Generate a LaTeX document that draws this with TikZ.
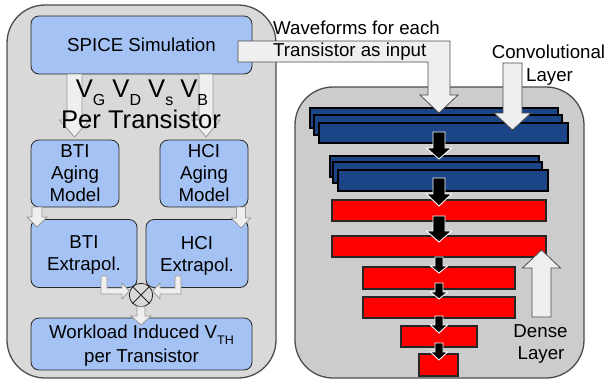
\documentclass[tikz,border=0pt]{standalone}
\usepackage{fontspec}
\setmainfont{Liberation Sans}
\definecolor{panelA}{HTML}{D9D9D9}
\definecolor{panelB}{HTML}{CCCCCC}
\definecolor{boxblue}{HTML}{A4C2F4}
\definecolor{darkblue}{HTML}{1C4587}
\definecolor{arrowfill}{HTML}{EFEFEF}
\definecolor{arrowline}{HTML}{999999}
\definecolor{panelline}{HTML}{4D4D4D}
\newcommand\dnarrow[7]{\draw[#7] ({#1-#4},#2) -- ({#1-#4},{#3-#6}) -- ({#1-#5},{#3-#6}) -- (#1,#3) -- ({#1+#5},{#3-#6}) -- ({#1+#4},{#3-#6}) -- ({#1+#4},#2) -- cycle;}
\newcommand\vsb[1]{\raisebox{-8.5pt}{\fontsize{16}{16}\selectfont #1}}
\newcommand\tsb[1]{\raisebox{-6pt}{\fontsize{12.5}{12.5}\selectfont #1}}
\tikzset{
  panel/.style={draw=panelline, line width=1.3pt, rounded corners=38pt, inner sep=0pt},
  bluebox/.style={draw=black!85, fill=boxblue, rounded corners=8pt, line width=0.8pt, align=center, inner sep=0pt, font=\fontsize{18.7}{22}\selectfont},
  blockarrow/.style={draw=arrowline, fill=arrowfill, line width=0.8pt},
  blackarrow/.style={draw=white, fill=black, line width=0.9pt},
  convbar/.style={draw=black, fill=darkblue, line width=1.3pt},
  densebar/.style={draw=black!85, fill=red, line width=1.3pt},
  lbl/.style={font=\fontsize{18.7}{22}\selectfont, inner sep=0pt},
  biglbl/.style={font=\fontsize{25.6}{28}\selectfont, inner sep=0pt},
}
\begin{document}
\begin{tikzpicture}[x=1pt,y=-1pt]
\useasboundingbox (0,0) rectangle (608,381);
\fill[white] (0,0) rectangle (608,381);
% panels
\node[panel, fill=panelA, minimum width=269pt, minimum height=373pt] (leftpanel) at (141.5,191.5) {};
\node[panel, fill=panelB, minimum width=289pt, minimum height=291pt] (rightpanel) at (439.5,232.5) {};
% blue boxes
\node[bluebox, minimum width=221pt, minimum height=58pt] (spice) at (141.5,45) {SPICE Simulation};
\node[bluebox, minimum width=88pt, minimum height=67pt] (btiage) at (75,173.5) {BTI\\Aging\\Model};
\node[bluebox, minimum width=88pt, minimum height=67pt] (hciage) at (204,173.5) {HCI\\Aging\\Model};
\node[bluebox, minimum width=106pt, minimum height=68pt] (btiext) at (84,253.5) {BTI\\\smash{Extrapol.}};
\node[bluebox, minimum width=102pt, minimum height=68pt] (hciext) at (197,253.5) {HCI\\\smash{Extrapol.}};
\node[bluebox, minimum width=221pt, minimum height=52pt, font=\fontsize{18.7}{24}\selectfont] (vth) at (141.5,344) {Workload Induced V\tsb{TH}\\\smash{per Transistor}};
% arrows from SPICE
\dnarrow{74.5}{74}{137}{7.5}{15}{17}{blockarrow}
\dnarrow{206}{74}{137}{7}{14}{17}{blockarrow}
\node[biglbl, anchor=base] (vlist) at (142,97) {V\vsb{G} V\vsb{D} V\vsb{s} V\vsb{B}};
\node[biglbl, anchor=base] (pertr) at (141,128.5) {Per Transistor};
% small arrows
\dnarrow{37}{207}{227}{5}{10}{10}{blockarrow}
\dnarrow{241}{207}{228}{4.5}{9.5}{10}{blockarrow}
% mixer
\node[draw=black!85, circle, minimum size=23.4pt, inner sep=0pt, line width=0.8pt] (mix) at (141,295) {};
\draw[black!85, line width=0.8pt] (mix.north west) -- (mix.south east) (mix.north east) -- (mix.south west);
\draw[blockarrow] (101,276) -- (101,294) -- (122,294) -- (122,299) -- (129.3,291) -- (122,283) -- (122,288) -- (107,288) -- (107,276) -- cycle;
\draw[blockarrow] (181,276) -- (181,294) -- (160,294) -- (160,299) -- (152.7,291) -- (160,283) -- (160,288) -- (175,288) -- (175,276) -- cycle;
\dnarrow{141}{306.7}{325}{4}{10}{9}{blockarrow}
% convolutional bars
\node[convbar, minimum width=248pt, minimum height=20pt, inner sep=0pt] (c1a) at (434,118) {};
\node[convbar, minimum width=248pt, minimum height=20pt, inner sep=0pt] (c1b) at (438,125) {};
\node[convbar, minimum width=249pt, minimum height=20pt, inner sep=0pt] (c1c) at (443.5,133) {};
\node[convbar, minimum width=209pt, minimum height=21pt, inner sep=0pt] (c2a) at (434.5,166.5) {};
\node[convbar, minimum width=209pt, minimum height=21pt, inner sep=0pt] (c2b) at (437.5,172.5) {};
\node[convbar, minimum width=210pt, minimum height=21pt, inner sep=0pt] (c2c) at (443,180.5) {};
% dense bars
\node[densebar, minimum width=214pt, minimum height=21pt, inner sep=0pt] (d1) at (439,210.5) {};
\node[densebar, minimum width=214pt, minimum height=21pt, inner sep=0pt] (d2) at (439,246.5) {};
\node[densebar, minimum width=152pt, minimum height=22pt, inner sep=0pt] (d3) at (439,278) {};
\node[densebar, minimum width=152pt, minimum height=21pt, inner sep=0pt] (d4) at (439,307.5) {};
\node[densebar, minimum width=76pt, minimum height=21pt, inner sep=0pt] (d5) at (439,336.5) {};
\node[densebar, minimum width=39pt, minimum height=22pt, inner sep=0pt] (d6) at (438.5,365) {};
% black arrows
\dnarrow{439}{132}{159}{6}{12.5}{11}{blackarrow}
\dnarrow{439}{178}{206}{6}{12.5}{12}{blackarrow}
\dnarrow{439}{216}{242}{6}{12.5}{11}{blackarrow}
\dnarrow{439}{257}{273}{4}{8.5}{7}{blackarrow}
\dnarrow{439}{283}{299}{4}{8.5}{7}{blackarrow}
\dnarrow{439}{316}{333}{4}{8.5}{8}{blackarrow}
\dnarrow{439}{343}{360}{4}{8.5}{8}{blackarrow}
% waveform arrow
\draw[blockarrow, draw=black!70] (238,41) -- (450,41) -- (450,95) -- (458,95) -- (439,113) -- (420,95) -- (428,95) -- (428,62) -- (238,62) -- cycle;
\node[lbl, anchor=base west] (wave1) at (273,34) {Waveforms for each};
\node[lbl, anchor=base west] (wave2) at (273,56) {Transistor as input};
% convolutional layer arrow
\dnarrow{512.5}{63}{130}{9.5}{18.5}{17}{blockarrow, draw=black!70}
\node[lbl, anchor=base] (convl1) at (548.5,58.5) {Convolutional};
\node[lbl, anchor=base] (convl2) at (549.5,81) {Layer};
% dense layer arrow
\draw[blockarrow, draw=black!70] (532,317) -- (532,268) -- (522.5,268) -- (541.5,250) -- (560.5,268) -- (551,268) -- (551,317) -- cycle;
\node[lbl, anchor=base] (dense1) at (540.5,337) {Dense};
\node[lbl, anchor=base] (dense2) at (541,359) {Layer};
\end{tikzpicture}
\end{document}
